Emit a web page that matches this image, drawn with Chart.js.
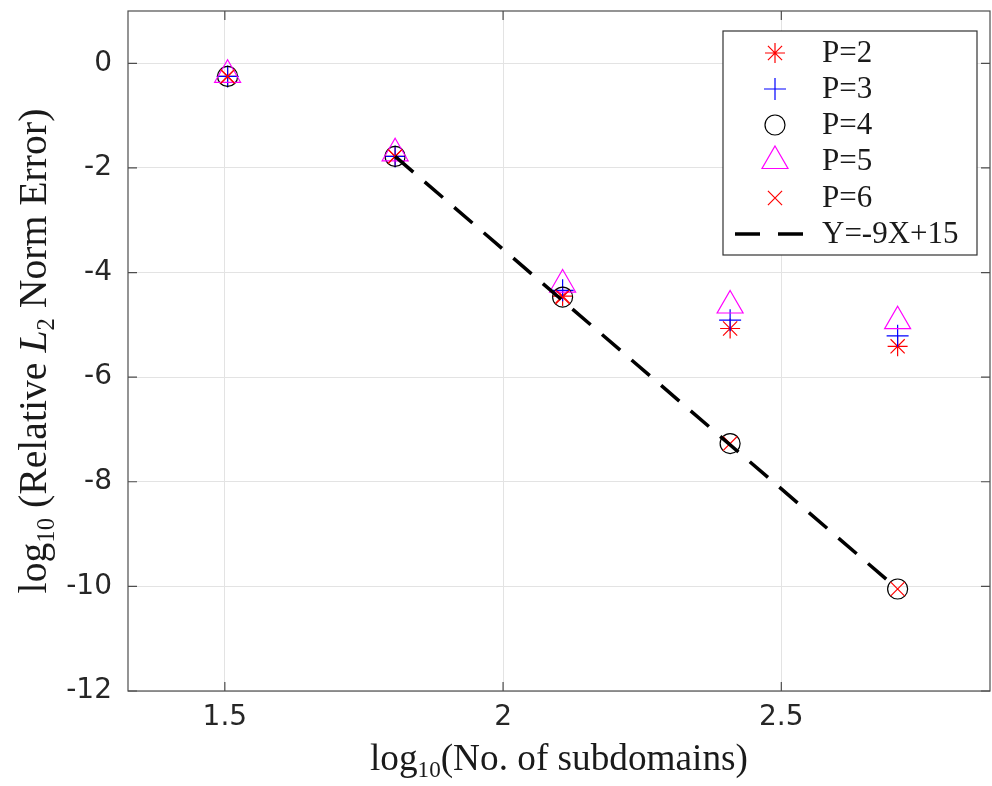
<!DOCTYPE html>
<html>
<head>
<meta charset="utf-8">
<script src="https://cdn.jsdelivr.net/npm/chart.js@4/dist/chart.umd.min.js"></script>
<style>
  html, body { margin: 0; background: #fff; }
  #wrap { width: 992px; height: 786px; }
</style>
</head>
<body>
<div id="wrap"><canvas id="c"></canvas></div>
<script>
// log10 of number of subdomains (32, 64, 128, 256, 512)
const xLog = [1.505, 1.806, 2.107, 2.408, 2.709];
// log10 of relative L2 error, one list per polynomial order
const errP2 = [-0.25, -1.78, -4.45, -5.07, -5.41];
const errP3 = [-0.25, -1.78, -4.34, -4.91, -5.21];
const errP4 = [-0.25, -1.78, -4.47, -7.27, -10.05];
const errP5 = [-0.22, -1.72, -4.23, -4.63, -4.93];
const errP6 = [-0.25, -1.78, -4.47, -7.27, -10.05];
// reference slope line
const fitX = [1.806, 2.709];
const fitY = [-1.78, -10.05];

const seriesLabels = ['P=2', 'P=3', 'P=4', 'P=5', 'P=6', 'Y=-9X+15'];
const xTicks = [1.5, 2, 2.5];
const yTicks = [-12, -10, -8, -6, -4, -2, 0];

const SERIF = '"Liberation Serif", "DejaVu Serif", serif';
const SANS = '"DejaVu Sans", sans-serif';
const BOX = '#4d4d4d';

function pts(xs, ys) {
    return xs.map(function(x, i) { return { x: x, y: ys[i] }; });
}

function markerSet(label, ys, style, color, radius, order) {
    return {
        label: label,
        data: pts(xLog, ys),
        showLine: false,
        pointStyle: style,
        pointRadius: radius,
        pointHoverRadius: radius,
        pointBorderColor: color,
        pointBackgroundColor: 'rgba(0,0,0,0)',
        pointBorderWidth: 1.2,
        borderColor: color,
        order: order
    };
}

const datasets = [
    markerSet(seriesLabels[0], errP2, 'star', '#ff0000', 10, 6),
    markerSet(seriesLabels[1], errP3, 'cross', '#0000ff', 11, 5),
    markerSet(seriesLabels[2], errP4, 'circle', '#000000', 10, 4),
    markerSet(seriesLabels[3], errP5, 'triangle', '#ff00ff', 15, 3),
    markerSet(seriesLabels[4], errP6, 'crossRot', '#ff0000', 10, 2),
    {
        label: seriesLabels[5],
        data: pts(fitX, fitY),
        showLine: true,
        pointRadius: 0,
        borderColor: '#000000',
        borderWidth: 3.5,
        borderDash: [24, 15],
        order: 1
    }
];

// draws a run of text pieces (for sub-scripts / italics) starting at x, baseline y
function richWidth(ctx, parts) {
    let w = 0;
    parts.forEach(function(p) { ctx.font = p.font; w += ctx.measureText(p.t).width; });
    return w;
}
function drawRich(ctx, parts, x, y) {
    parts.forEach(function(p) {
        ctx.font = p.font;
        ctx.fillText(p.t, x, y + (p.dy || 0));
        x += ctx.measureText(p.t).width;
    });
}
function titleParts(size, pieces) {
    return pieces.map(function(p) {
        const s = p.sub ? size * 0.62 : size;
        return { t: p.t, font: (p.it ? 'italic ' : '') + s + 'px ' + SERIF, dy: p.sub ? size * 0.2 : 0 };
    });
}
function fitSize(ctx, pieces, target) {
    const w = richWidth(ctx, titleParts(100, pieces));
    return 100 * target / w;
}

const xTitle = [{ t: 'log' }, { t: '10', sub: true }, { t: '(No. of subdomains)' }];
const yTitle = [{ t: 'log' }, { t: '10', sub: true }, { t: ' (Relative ' }, { t: 'L', it: true },
                { t: '2', sub: true }, { t: ' Norm Error)' }];

const framePlugin = {
    id: 'frame',
    afterDraw: function(chart) {
        const ctx = chart.ctx;
        const a = chart.chartArea;
        const xs = chart.scales.x, ys = chart.scales.y;
        ctx.save();

        // axes box and inward ticks
        ctx.strokeStyle = BOX;
        ctx.lineWidth = 1.2;
        ctx.strokeRect(a.left, a.top, a.right - a.left, a.bottom - a.top);
        ctx.beginPath();
        xTicks.forEach(function(v) {
            const px = xs.getPixelForValue(v);
            ctx.moveTo(px, a.bottom); ctx.lineTo(px, a.bottom - 9);
            ctx.moveTo(px, a.top); ctx.lineTo(px, a.top + 9);
        });
        yTicks.forEach(function(v) {
            const py = ys.getPixelForValue(v);
            ctx.moveTo(a.left, py); ctx.lineTo(a.left + 9, py);
            ctx.moveTo(a.right, py); ctx.lineTo(a.right - 9, py);
        });
        ctx.stroke();

        // legend
        const lx = 723, ly = 31, lw = 254, lh = 224;
        ctx.fillStyle = '#fff';
        ctx.fillRect(lx, ly, lw, lh);
        ctx.strokeStyle = '#333';
        ctx.lineWidth = 1.2;
        ctx.strokeRect(lx, ly, lw, lh);
        const rowY = [53, 89, 125, 161, 198, 234];
        chart.data.datasets.forEach(function(ds, i) {
            const y = rowY[i];
            if (ds.showLine) {
                ctx.save();
                ctx.strokeStyle = ds.borderColor;
                ctx.lineWidth = ds.borderWidth;
                ctx.setLineDash([25, 18]);
                ctx.beginPath();
                ctx.moveTo(735, y); ctx.lineTo(804, y);
                ctx.stroke();
                ctx.restore();
            } else {
                ctx.strokeStyle = ds.pointBorderColor;
                ctx.fillStyle = 'rgba(0,0,0,0)';
                ctx.lineWidth = ds.pointBorderWidth;
                Chart.helpers.drawPoint(ctx, {
                    pointStyle: ds.pointStyle, radius: ds.pointRadius, rotation: 0, borderWidth: ds.pointBorderWidth
                }, 775, y);
            }
            ctx.fillStyle = '#1a1a1a';
            ctx.font = '31px ' + SERIF;
            ctx.textAlign = 'left';
            ctx.textBaseline = 'middle';
            ctx.fillText(ds.label, 822, y + 1);
        });

        // axis titles
        ctx.fillStyle = '#1a1a1a';
        ctx.textAlign = 'left';
        ctx.textBaseline = 'alphabetic';
        const xs1 = fitSize(ctx, xTitle, 378);
        const xp = titleParts(xs1, xTitle);
        const xw = richWidth(ctx, xp);
        drawRich(ctx, xp, (a.left + a.right) / 2 - xw / 2, 770);

        const ys1 = fitSize(ctx, yTitle, 485);
        const yp = titleParts(ys1, yTitle);
        const yw = richWidth(ctx, yp);
        ctx.translate(46, (a.top + a.bottom) / 2);
        ctx.rotate(-Math.PI / 2);
        drawRich(ctx, yp, -yw / 2, 0);

        ctx.restore();
    }
};

function noPad(s) {
    s.paddingTop = 0; s.paddingBottom = 0; s.paddingLeft = 0; s.paddingRight = 0;
}

new Chart(document.getElementById('c'), {
    type: 'scatter',
    data: { datasets: datasets },
    options: {
        responsive: true,
        maintainAspectRatio: false,
        animation: false,
        layout: { autoPadding: false, padding: { top: 11, right: 2, left: 0, bottom: 0 } },
        plugins: {
            legend: { display: false },
            tooltip: { enabled: false }
        },
        scales: {
            x: {
                type: 'linear',
                min: 1.326,
                max: 2.875,
                afterBuildTicks: function(s) { s.ticks = xTicks.map(function(v) { return { value: v }; }); },
                afterFit: function(s) { s.height = 95; noPad(s); },
                grid: { color: '#e3e3e3', lineWidth: 1, drawTicks: false },
                border: { display: false },
                ticks: {
                    padding: 10,
                    color: '#262626',
                    font: { family: SANS, size: 28 },
                    callback: function(v) { return String(v); }
                }
            },
            y: {
                min: -12,
                max: 1,
                afterBuildTicks: function(s) { s.ticks = yTicks.map(function(v) { return { value: v }; }); },
                afterFit: function(s) { s.width = 128; noPad(s); },
                grid: { color: '#e3e3e3', lineWidth: 1, drawTicks: false },
                border: { display: false },
                ticks: {
                    padding: 16,
                    color: '#262626',
                    font: { family: SANS, size: 28 },
                    callback: function(v) { return String(v); }
                }
            }
        }
    },
    plugins: [framePlugin]
});
</script>
</body>
</html>
